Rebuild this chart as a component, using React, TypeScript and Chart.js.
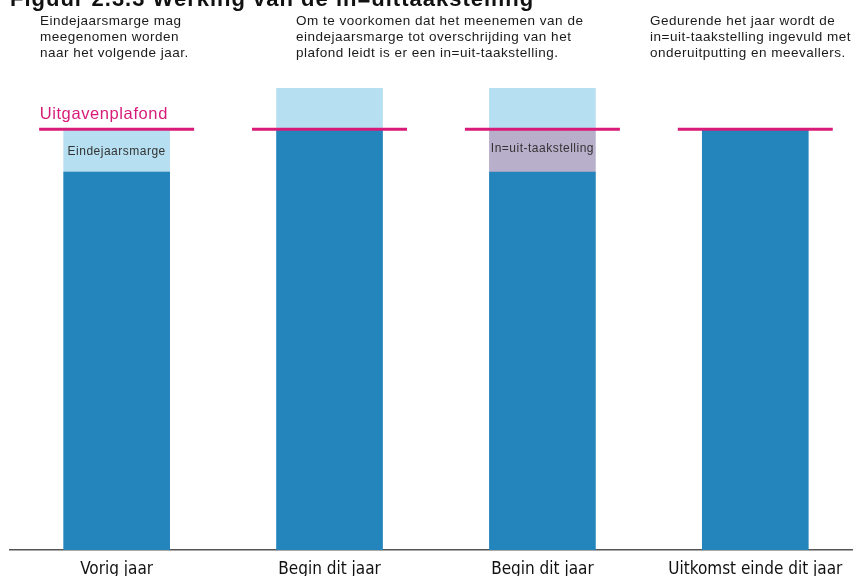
import React, { useEffect, useRef } from "react";
import { Chart, registerables } from "chart.js";

Chart.register(...registerables);

const categories = ["Vorig jaar", "Begin dit jaar", "Begin dit jaar", "Uitkomst einde dit jaar"];
const basis = [90, 100, 90, 100];
const taakstelling = [0, 0, 10, 0];
const marge = [10, 10, 10, 0];
const plafond = [100, 100, 100, 100];
const margeLabels = ["Eindejaarsmarge", "", "", ""];
const taakLabels = ["", "", "In=uit-taakstelling", ""];
const plafondLabel = "Uitgavenplafond";
const title = "Figuur 2.3.3 Werking van de in=uittaakstelling";
const notes = [
  ["Eindejaarsmarge mag", "meegenomen worden", "naar het volgende jaar."],
  ["Om te voorkomen dat het meenemen van de", "eindejaarsmarge tot overschrijding van het", "plafond leidt is er een in=uit-taakstelling."],
  [],
  ["Gedurende het jaar wordt de", "in=uit-taakstelling ingevuld met", "onderuitputting en meevallers."],
];

const MAGENTA = "#D81B78";
const DARK = "#2484BC";
const LIGHT = "#B6E0F1";
const PURPLE = "#B8AFCB";
const FONT = "'Liberation Sans', Arial, sans-serif";
const NARROW = "'Liberation Sans Narrow', 'DejaVu Sans Condensed', 'Liberation Sans', sans-serif";

const overlayPlugin = {
  id: "overlay",
  afterDatasetsDraw(chart: any) {
    const ctx = chart.ctx;
    const xs = chart.scales.x;
    const ys = chart.scales.y;
    ctx.save();
    const drawSegLabels = (dsIndex: number, labels: string[]) => {
      const meta = chart.getDatasetMeta(dsIndex);
      meta.data.forEach((el: any, i: number) => {
        if (!labels[i]) return;
        ctx.font = `12px ${FONT}`;
        (ctx as any).letterSpacing = "0.5px";
        ctx.fillStyle = "#333333";
        ctx.textAlign = "center";
        ctx.textBaseline = "middle";
        ctx.fillText(labels[i], el.x, (el.y + el.base) / 2 + (dsIndex === 2 ? 1 : -2));
      });
    };
    drawSegLabels(1, taakLabels);
    drawSegLabels(2, margeLabels);
    ctx.strokeStyle = MAGENTA;
    ctx.lineWidth = 3;
    plafond.forEach((v, i) => {
      const cx = xs.getPixelForValue(i);
      const py = ys.getPixelForValue(v) - 0.7;
      ctx.beginPath();
      ctx.moveTo(cx - 77.5, py);
      ctx.lineTo(cx + 77.5, py);
      ctx.stroke();
    });
    const x0 = xs.getPixelForValue(0) - 77;
    ctx.font = `16.5px ${FONT}`;
    (ctx as any).letterSpacing = "0.6px";
    ctx.fillStyle = MAGENTA;
    ctx.textAlign = "left";
    ctx.textBaseline = "alphabetic";
    ctx.fillText(plafondLabel, x0, ys.getPixelForValue(plafond[0]) - 11);
    ctx.restore();
  },
};

export default function App() {
  const ref = useRef<HTMLCanvasElement | null>(null);
  useEffect(() => {
    document.body.style.margin = "0";
    if (!ref.current) return;
    const chart = new Chart(ref.current, {
      type: "bar",
      data: {
        datasets: [
          { label: "Basis", data: basis.map((y, i) => ({ x: i, y })), backgroundColor: DARK },
          { label: "In=uit-taakstelling", data: taakstelling.map((y, i) => ({ x: i, y })), backgroundColor: PURPLE },
          { label: "Eindejaarsmarge", data: marge.map((y, i) => ({ x: i, y })), backgroundColor: LIGHT },
        ],
      },
      options: {
        animation: false,
        responsive: false,
        devicePixelRatio: 1,
        layout: { padding: { left: 10, right: 0, top: 88, bottom: 0 } },
        datasets: { bar: { barThickness: 106, borderWidth: 0 } },
        plugins: { legend: { display: false }, tooltip: { enabled: false }, title: { display: false } },
        scales: {
          x: {
            type: "linear",
            stacked: true,
            offset: false,
            min: -0.501,
            max: 3.459,
            afterBuildTicks: (axis: any) => {
              axis.ticks = categories.map((_, i) => ({ value: i }));
            },
            afterFit: (axis: any) => {
              axis.height = 26;
            },
            grid: { display: false, drawTicks: false, offset: false },
            border: { display: true, color: "#555555", width: 1.5 },
            ticks: {
              autoSkip: false,
              maxRotation: 0,
              padding: 9,
              color: "#111111",
              font: { family: NARROW, size: 17 },
              callback: (v: any) => categories[v as number] ?? "",
            },
          },
          y: {
            stacked: true,
            display: false,
            min: 0,
            max: 110,
          },
        },
      },
      plugins: [overlayPlugin],
    });
    return () => chart.destroy();
  }, []);

  const cols = [40, 296, 0, 650];
  return (
    <div style={{ position: "relative", width: 853, height: 576, overflow: "hidden", background: "#fff" }}>
      <canvas ref={ref} width={853} height={576} style={{ position: "absolute", left: 0, top: 0 }} />
      <div
        style={{
          position: "absolute",
          left: 10,
          top: -12.5,
          fontFamily: FONT,
          fontWeight: "bold",
          fontSize: 22,
          lineHeight: "22px",
          letterSpacing: "1px",
          whiteSpace: "nowrap",
          color: "#111",
        }}
      >
        {title}
      </div>
      {notes.map((lines, i) =>
        lines.length ? (
          <div
            key={i}
            style={{
              position: "absolute",
              left: cols[i],
              top: 12.5,
              fontFamily: FONT,
              fontSize: 13.5,
              lineHeight: "16px",
              letterSpacing: "0.5px",
              whiteSpace: "nowrap",
              color: "#1a1a1a",
            }}
          >
            {lines.map((l, j) => (
              <div key={j}>{l}</div>
            ))}
          </div>
        ) : null
      )}
    </div>
  );
}
